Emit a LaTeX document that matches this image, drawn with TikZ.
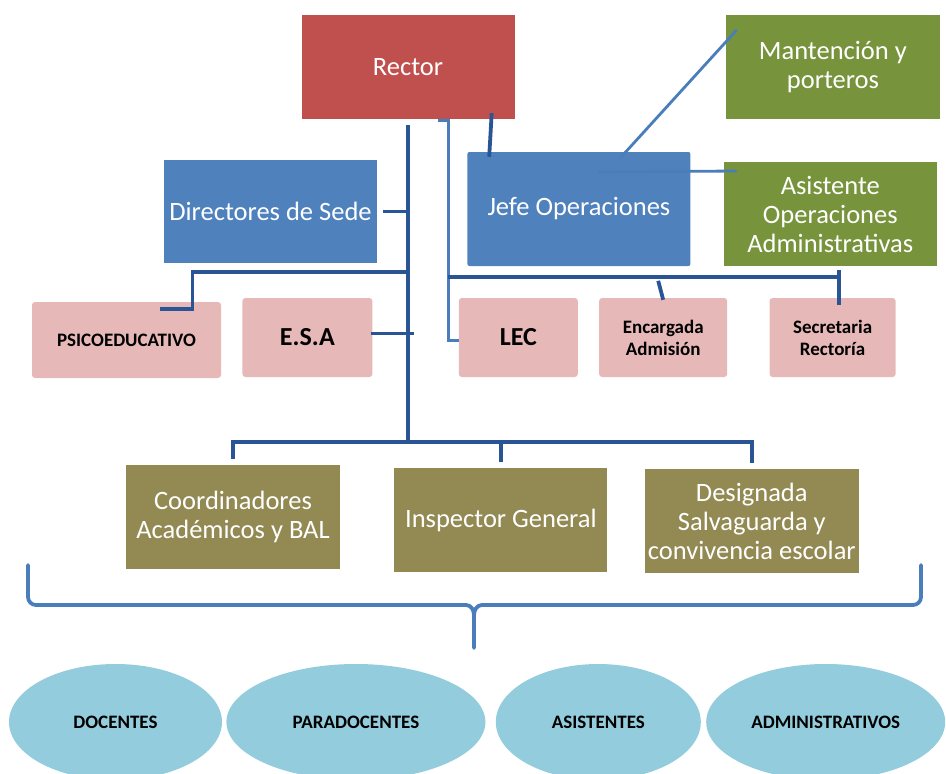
\documentclass[tikz,border=0pt]{standalone}
\usepackage{fontspec}
\setmainfont{Carlito}
\usetikzlibrary{positioning,shapes.geometric,calc}

\definecolor{rectorred}{HTML}{C0504D}
\definecolor{jefeblue}{HTML}{4F81BD}
\definecolor{mantgreen}{HTML}{77933C}
\definecolor{pinkfill}{HTML}{E6B9B8}
\definecolor{olivefill}{HTML}{938953}
\definecolor{ovalblue}{HTML}{93CDDD}
\definecolor{linkdarkcol}{HTML}{2A5595}
\definecolor{linklightcol}{HTML}{4A7EBB}

\begin{document}
\begin{tikzpicture}[x=1pt, y=1pt,
    mainbox/.style={rectangle, minimum width=213pt, minimum height=104pt, inner sep=1pt,
        text=white, align=center, font=\fontsize{26.5}{29}\selectfont},
    pinkunit/.style={rectangle, rounded corners=3pt, fill=pinkfill, minimum height=79pt,
        inner sep=1pt, align=center, font=\bfseries\fontsize{19}{22}\selectfont},
    staffoval/.style={ellipse, fill=ovalblue, minimum height=116pt, inner sep=0pt,
        font=\bfseries\fontsize{19}{22}\selectfont},
    linkdark/.style={draw=linkdarkcol, line width=3.8pt},
    linklight/.style={draw=linklightcol, line width=2.8pt},
    bracestroke/.style={draw=linklightcol, line width=3.8pt, line cap=round}]

    \useasboundingbox (0,0) rectangle (946,-774);
    \clip (0,0) rectangle (946,-774);

    % top rows
    \node[mainbox, fill=rectorred] (rector) at (408,-67) {Rector};
    \node[mainbox, fill=mantgreen, minimum width=214pt, right=211pt of rector] (mant) {Mantención y\\porteros};
    \node[mainbox, fill=jefeblue, minimum height=103pt] (dir) at (270.5,-211.5) {Directores de Sede};
    \node[mainbox, fill=jefeblue, rounded corners=2pt, minimum width=223pt, minimum height=114pt,
        right=90pt of dir, yshift=2.5pt] (jefe) {Jefe Operaciones};
    \node[mainbox, fill=mantgreen, right=33pt of jefe, yshift=-5pt] (asist) {Asistente\\Operaciones\\Administrativas};

    % pink row
    \node[pinkunit, minimum width=189pt, minimum height=76pt] (psico) at (126.5,-340) {PSICOEDUCATIVO};
    \node[pinkunit, minimum width=130pt, font=\bfseries\fontsize{26}{30}\selectfont,
        right=21pt of psico, yshift=2.5pt] (esa) {E.S.A};
    \node[pinkunit, minimum width=119pt, font=\bfseries\fontsize{26}{30}\selectfont,
        right=86pt of esa] (lec) {LEC};
    \node[pinkunit, minimum width=128pt, right=21pt of lec] (enc) {Encargada\\Admisión};
    \node[pinkunit, minimum width=126pt, right=42pt of enc] (sec) {Secretaria\\Rectoría};

    % olive row
    \node[mainbox, fill=olivefill, minimum width=214pt] (coord) at (233,-517) {Coordinadores\\Académicos y BAL};
    \node[mainbox, fill=olivefill, right=54pt of coord, yshift=-3pt] (insp) {Inspector General};
    \node[mainbox, fill=olivefill, minimum width=214pt, right=37pt of insp, yshift=-1pt] (desig)
        {Designada\\Salvaguarda y\\convivencia escolar};

    % staff
    \node[staffoval, minimum width=213pt] (doc) at (115.5,-722) {DOCENTES};
    \node[staffoval, minimum width=259pt, right=4pt of doc] (para) {PARADOCENTES};
    \node[staffoval, minimum width=205pt, right=10pt of para] (asis) {ASISTENTES};
    \node[staffoval, minimum width=239pt, right=5pt of asis] (adm) {ADMINISTRATIVOS};

    % trunk and lower bus
    \coordinate (bus) at ($(coord.north)+(0,23)$);
    \draw[linkdark] ($(rector.south)+(0,-6)$) -- (rector.south |- bus);
    \draw[linkdark] ($(coord.north)+(0,6)$) -- (bus) -| ($(desig.north)+(0,6)$);
    \draw[linkdark] (insp.north |- bus) -- ($(insp.north)+(0,6)$);

    % directores
    \draw[linkdark] ($(dir.east)+(6,0)$) -- (rector.south |- dir.east);
    \coordinate (dirbus) at ($(dir.south -| rector.south)+(0,-9)$);
    \draw[linkdark] (dirbus) -| ($(psico.north)+(66,-7)$) -- ($(psico.north)+(33,-7)$);
    \draw[linkdark] ($(esa.east)+(-2,4)$) -- ($(esa.east -| rector.south)+(6,4)$);

    % operaciones
    \draw[linkdark] ($(rector.south east)+(-23,6)$) -- ($(jefe.north west)+(22,-5)$);
    \draw[linklight] ($(rector.south)+(30,-1)$) -| ($(lec.west)+(-10,-3)$) -- ($(lec.west)+(0,-3)$);
    \coordinate (opbus) at ($(lec.west |- jefe.south)+(-11,-11)$);
    \draw[linkdark] (opbus) -- ($(sec.north |- opbus)+(6,0)$);
    \draw[linkdark] ($(sec.north)+(6,28)$) -- ($(sec.north)+(6,-7)$);
    \draw[linkdark] ($(enc.north)+(-5,17)$) -- ($(enc.north)+(0,-2)$);
    \draw[linklight] ($(jefe.north)+(41.5,-6)$) -- ($(mant.west)+(11,37)$);
    \draw[linklight] ($(jefe.center)+(19.5,37)$) -- ($(asist.west)+(13,43)$);

    % brace over the staff
    \draw[bracestroke] (28,-565) -- (28,-597) to[out=-90,in=180] (36,-605) -- (466,-605)
        to[out=0,in=90] (474,-615) -- (474,-648);
    \draw[bracestroke] (921,-565) -- (921,-597) to[out=-90,in=0] (913,-605) -- (482,-605)
        to[out=180,in=90] (474,-615);
\end{tikzpicture}
\end{document}
